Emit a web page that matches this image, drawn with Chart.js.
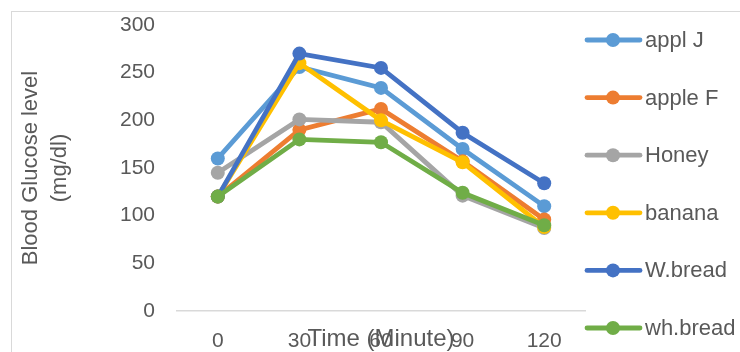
<!DOCTYPE html>
<html>
<head>
<meta charset="utf-8">
<script src="https://cdn.jsdelivr.net/npm/chart.js@4/dist/chart.umd.min.js"></script>
<style>
  html, body { margin: 0; padding: 0; background: #fff; }
  #wrap { width: 740px; height: 352px; position: relative; }
</style>
</head>
<body>
<div id="wrap"><canvas id="c" width="740" height="352"></canvas></div>
<script>
// Blood glucose readings (mg/dl) after each food, sampled over two hours
const times = ['0', '30', '60', '90', '120'];
const seriesNames = ['appl J', 'apple F', 'Honey', 'banana', 'W.bread', 'wh.bread'];
const applJ   = [160, 256, 234, 170, 110];
const appleF  = [120, 190, 212, 157, 96];
const honey   = [145, 201, 198, 121, 87];
const banana  = [120, 260, 200, 156, 88];
const wBread  = [120, 270, 255, 187, 134];
const whBread = [120, 180, 177, 124, 90];
const yTicks = [0, 50, 100, 150, 200, 250, 300];

const seriesValues = [applJ, appleF, honey, banana, wBread, whBread];
const colors = ['#5B9BD5', '#ED7D31', '#A5A5A5', '#FFC000', '#4472C4', '#70AD47'];
const FONT = "'Liberation Sans', Arial, sans-serif";
const TEXT = '#595959';

const datasets = seriesNames.map((name, i) => ({
  label: name,
  data: seriesValues[i],
  borderColor: colors[i],
  backgroundColor: colors[i],
  pointBackgroundColor: colors[i],
  pointBorderColor: colors[i],
  borderWidth: 4.8,
  pointRadius: 7,
  pointBorderWidth: 0,
  tension: 0,
  // later series sit on top of earlier ones
  order: seriesNames.length - i
}));

// outer frame of the chart box
const framePlugin = {
  id: 'frame',
  beforeDraw(chart) {
    const ctx = chart.ctx;
    ctx.save();
    ctx.strokeStyle = '#D9D9D9';
    ctx.lineWidth = 1;
    ctx.strokeRect(11.5, 11.5, 800, 400);
    ctx.restore();
  }
};

// legend on the right: line segment with a dot, then the name
const sideLegend = {
  id: 'sideLegend',
  afterDraw(chart) {
    const ctx = chart.ctx;
    const x0 = chart.chartArea.right;
    const top = 40, step = 57.6;
    ctx.save();
    chart.data.datasets.forEach((ds, i) => {
      const y = top + i * step;
      ctx.strokeStyle = ds.borderColor;
      ctx.lineWidth = 4.8;
      ctx.lineCap = 'round';
      ctx.beginPath();
      ctx.moveTo(x0 + 2, y);
      ctx.lineTo(x0 + 55, y);
      ctx.stroke();
      ctx.fillStyle = ds.borderColor;
      ctx.beginPath();
      ctx.arc(x0 + 28, y, 7, 0, Math.PI * 2);
      ctx.fill();
      ctx.fillStyle = TEXT;
      ctx.font = '22px ' + FONT;
      ctx.textAlign = 'left';
      ctx.textBaseline = 'middle';
      ctx.fillText(ds.label, x0 + 60, y + 1);
    });
    ctx.restore();
  }
};

new Chart(document.getElementById('c'), {
  type: 'line',
  data: { labels: times, datasets },
  plugins: [framePlugin, sideLegend],
  options: {
    responsive: false,
    animation: false,
    devicePixelRatio: 1,
    layout: { padding: { left: 0, top: 25, right: 155, bottom: 0 } },
    plugins: { legend: { display: false }, tooltip: { enabled: false } },
    scales: {
      x: {
        type: 'category',
        offset: true,
        grid: { display: false, drawTicks: false },
        border: { display: true, color: '#D9D9D9', width: 1.5 },
        ticks: { color: TEXT, font: { family: FONT, size: 21 }, padding: 18, maxRotation: 0 },
        title: {
          display: true,
          text: 'Time (Minute)',
          color: TEXT,
          font: { family: FONT, size: 24 },
          padding: { top: 0, bottom: -2 }
        },
        afterFit(scale) {
          scale.height = 41;
          scale.paddingLeft = 0;
          scale.paddingRight = 0;
        }
      },
      y: {
        min: 0,
        max: 300,
        afterBuildTicks(scale) { scale.ticks = yTicks.map(v => ({ value: v })); },
        grid: { display: false, drawTicks: false },
        border: { display: false },
        ticks: { color: TEXT, font: { family: FONT, size: 21 }, padding: 22 },
        title: {
          display: true,
          text: ['Blood Glucose level', '(mg/dl)'],
          color: TEXT,
          font: { family: FONT, size: 22, lineHeight: 1.32 },
          padding: { top: 16, bottom: 0 }
        },
        afterFit(scale) {
          scale.width = 177;
          scale.paddingTop = 0;
          scale.paddingBottom = 0;
        }
      }
    }
  }
});
</script>
</body>
</html>
